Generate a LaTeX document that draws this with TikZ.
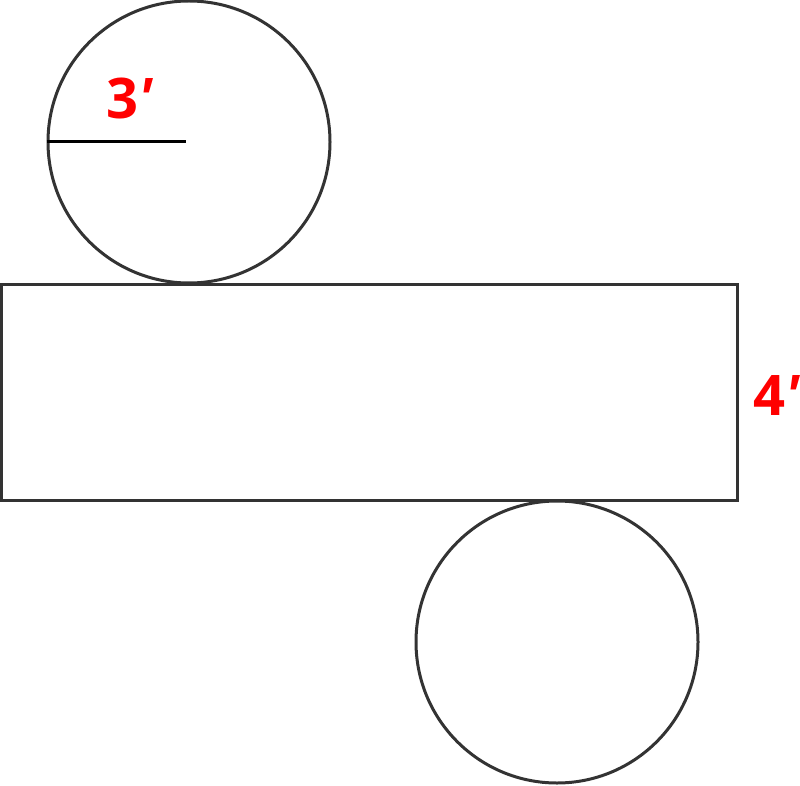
\documentclass[tikz,border=0pt]{standalone}
\usepackage{fontspec}
\setmainfont{Open Sans}
\begin{document}
\begin{tikzpicture}[x=1pt,y=-1pt,
    face/.style={draw=black!80,line width=3pt,circle,minimum size=282pt,inner sep=0pt},
    side/.style={draw=black!80,line width=3pt,rectangle,minimum width=736pt,minimum height=216pt,inner sep=0pt},
    dim/.style={text=red,font=\fontsize{56}{60}\selectfont\bfseries,inner sep=0pt}]
            \useasboundingbox (0,0) rectangle (800,786);
            \node[face] (top) at (189,142) {};
            \node[side] (body) at (369,392) {};
            \node[face] (bottom) at (557,642) {};
            \coordinate (r) at (186,142);
            \draw[line width=3pt] (top.west) -- (r);
            \node[dim] (rlabel) at (130,98) {3{\itshape ′}};
            \node[dim,left] (hlabel) at (800,396) {4{\itshape ′}};
            \end{tikzpicture}
\end{document}
